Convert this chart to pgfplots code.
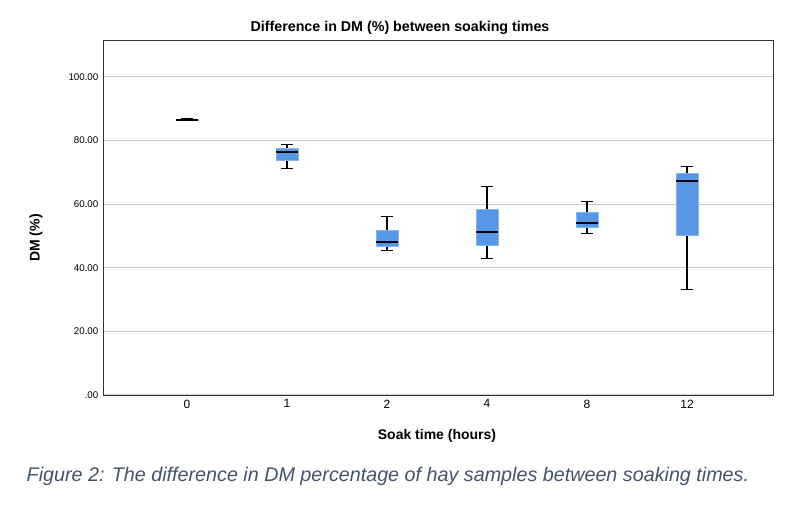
\documentclass[border=0pt]{standalone}
\usepackage{pgfplots}
\pgfplotsset{compat=1.18}
\usepgfplotslibrary{statistics}
\usepackage{fontspec}
\setmainfont{Liberation Sans}
\definecolor{boxc}{HTML}{5596E6}
\definecolor{capc}{HTML}{44546A}
\begin{document}
\begin{tikzpicture}[x=0.75pt,y=0.75pt]
\useasboundingbox (0,0) rectangle (799,509);
\begin{axis}[at={(77.25pt,85.5pt)},anchor=south west,
 scale only axis, width=502.5pt, height=266pt,
 xmin=-0.84, xmax=5.86, ymin=0, ymax=111.5,
 xtick={0,1,2,3,4,5}, xticklabels={0,1,2,4,8,12},
 ytick={0,20,40,60,80,100}, yticklabels={.00,20.00,40.00,60.00,80.00,100.00},
 tick label style={font=\fontsize{7.3}{8}\selectfont},
 xticklabel style={font=\fontsize{9}{10}\selectfont},
 ymajorgrids, grid style={gray!40, line width=0.8pt},
 major tick length=0pt, axis line style={black!80},
 boxplot/draw direction=y,
 boxplot/box extend=0.22, boxplot/whisker extend=0.12,
 boxplot/every box/.style={draw=boxc!70, fill=boxc, solid},
 boxplot/every median/.style={black, line width=1.3pt, solid},
 boxplot/every whisker/.style={black, line width=0.8pt, solid},
]
\addplot[black, solid, mark=none, boxplot prepared={draw position=0, lower whisker=86.2, lower quartile=86.3, median=86.5, upper quartile=86.7, upper whisker=86.8}] coordinates {};
\addplot[black, solid, mark=none, boxplot prepared={draw position=1, lower whisker=71.3, lower quartile=73.9, median=76.5, upper quartile=77.6, upper whisker=78.8}] coordinates {};
\addplot[black, solid, mark=none, boxplot prepared={draw position=2, lower whisker=45.5, lower quartile=46.8, median=48.0, upper quartile=51.9, upper whisker=56.0}] coordinates {};
\addplot[black, solid, mark=none, boxplot prepared={draw position=3, lower whisker=43.0, lower quartile=47.1, median=51.3, upper quartile=58.4, upper whisker=65.5}] coordinates {};
\addplot[black, solid, mark=none, boxplot prepared={draw position=4, lower whisker=50.8, lower quartile=52.6, median=54.1, upper quartile=57.3, upper whisker=60.8}] coordinates {};
\addplot[black, solid, mark=none, boxplot prepared={draw position=5, lower whisker=33.2, lower quartile=50.3, median=67.3, upper quartile=69.6, upper whisker=71.9}] coordinates {};
\end{axis}
\node[font=\fontsize{10.7}{12}\selectfont\bfseries] at (400,481) {Difference in DM (\%) between soaking times};
\node[font=\fontsize{10.5}{12}\selectfont\bfseries, rotate=90] at (36,271) {DM (\%)};
\node[font=\fontsize{10.5}{12}\selectfont\bfseries] at (437,73) {Soak time (hours)};
\node[font=\fontsize{14.8}{16}\selectfont\itshape, text=capc, anchor=west] at (22,33) {Figure 2: The difference in DM percentage of hay samples between soaking times.};
\end{tikzpicture}
\end{document}
